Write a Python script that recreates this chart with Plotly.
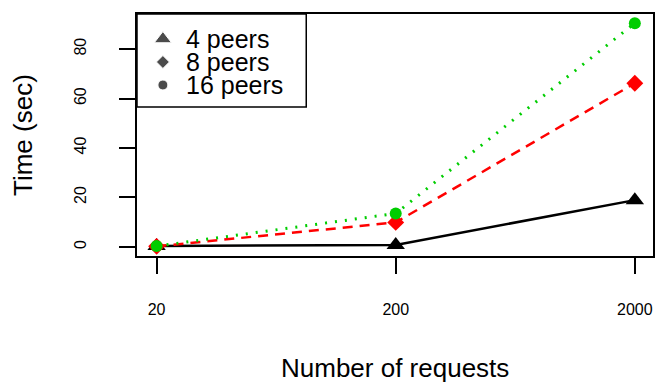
import plotly.graph_objects as go

requests = [20, 200, 2000]
peers4 = [0.3, 0.8, 18.9]
peers8 = [0.2, 9.9, 66.2]
peers16 = [0.3, 13.5, 90.5]
series_names = ["4 peers", "8 peers", "16 peers"]
x_ticks = [20, 200, 2000]
y_ticks = [0, 20, 40, 60, 80]

FONT = "Liberation Sans, Arial, Helvetica, sans-serif"
GREEN = "#00CD00"

fig = go.Figure()
fig.add_trace(go.Scatter(x=requests, y=peers4, mode="lines+markers", name=series_names[0],
                         line=dict(color="black", width=2.5),
                         marker=dict(symbol="triangle-up", size=16, color="black")))
fig.add_trace(go.Scatter(x=requests, y=peers8, mode="lines+markers", name=series_names[1],
                         line=dict(color="red", width=2.5, dash="10px,7px"),
                         marker=dict(symbol="diamond", size=13, color="red")))
fig.add_trace(go.Scatter(x=requests, y=peers16, mode="lines+markers", name=series_names[2],
                         line=dict(color=GREEN, width=3, dash="2px,8px"),
                         marker=dict(symbol="circle", size=12, color=GREEN)))

# legend symbols on an overlay axis (0..1 box coordinates)
leg_x = [0.0502, 0.0502, 0.0502]
leg_y = [0.8967, 0.8017, 0.7066]
fig.add_trace(go.Scatter(x=leg_x, y=leg_y, xaxis="x2", yaxis="y2", mode="markers",
                         marker=dict(symbol=["triangle-up", "diamond", "circle"],
                                     size=[15, 10, 10], color="black"),
                         hoverinfo="skip", showlegend=False))
for name, yy in zip(series_names, leg_y):
    fig.add_annotation(x=0.092, y=yy, xref="paper", yref="paper", text=name,
                       showarrow=False, xanchor="left", yanchor="middle",
                       font=dict(family=FONT, size=25, color="black"))
fig.add_shape(type="rect", xref="paper", yref="paper", x0=0.0, x1=0.328, y0=0.6157, y1=1.0,
              line=dict(color="black", width=1.5), fillcolor="white", layer="below")

axis_common = dict(showline=True, mirror=True, linecolor="black", linewidth=1.5,
                   showgrid=False, zeroline=False, ticks="outside", ticklen=16,
                   tickwidth=1.5, tickcolor="black")

fig.update_layout(
    width=656, height=383,
    margin=dict(l=137, r=1, t=14, b=127),
    paper_bgcolor="white", plot_bgcolor="rgba(0,0,0,0)",
    showlegend=False,
    font=dict(family=FONT, color="black"),
    xaxis=dict(type="log", range=[1.219, 3.377], tickvals=x_ticks,
               ticktext=[str(v) for v in x_ticks], tickfont=dict(size=16),
               ticklabelstandoff=22, **axis_common),
    yaxis=dict(range=[-3.7, 94.2], tickvals=y_ticks, tickangle=-90,
               tickfont=dict(size=16), ticklabelstandoff=27, **axis_common),
    xaxis2=dict(range=[0, 1], overlaying="x", visible=False, fixedrange=True),
    yaxis2=dict(range=[0, 1], overlaying="y", visible=False, fixedrange=True),
)

fig.add_annotation(x=0.5, y=0, xref="paper", yref="paper", text="Number of requests",
                   showarrow=False, xanchor="center", yanchor="middle", yshift=-112,
                   font=dict(family=FONT, size=26, color="black"))
fig.add_annotation(x=0, y=0.5, xref="paper", yref="paper", text="Time (sec)",
                   showarrow=False, xanchor="center", yanchor="middle", xshift=-114,
                   textangle=-90, font=dict(family=FONT, size=26, color="black"))

fig.write_html("out.html")
